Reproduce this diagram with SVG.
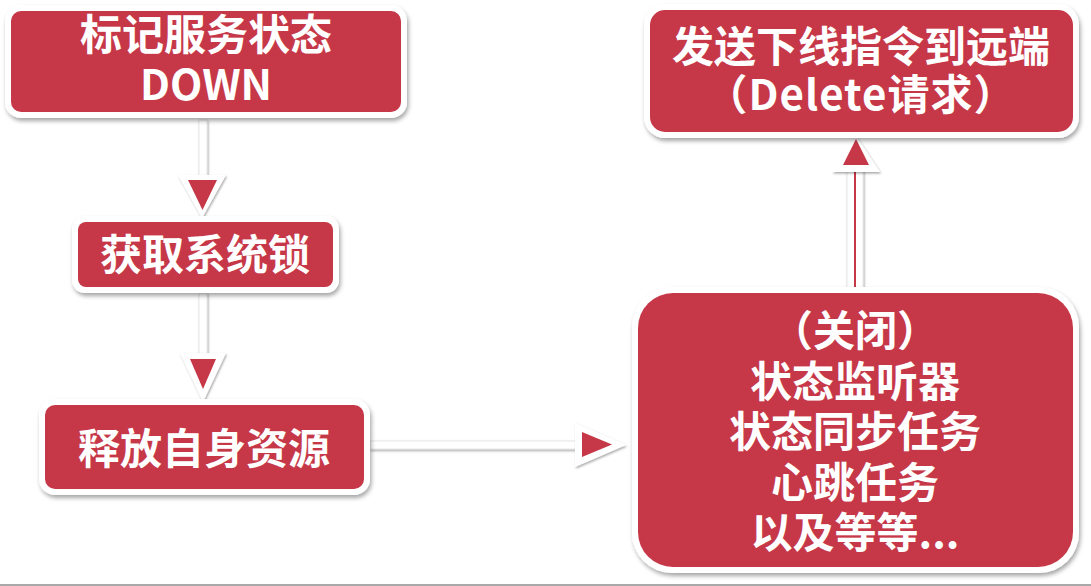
<svg xmlns="http://www.w3.org/2000/svg" width="1091" height="586" viewBox="0 0 1091 586">
  <defs>
    <filter id="shadow" x="-20%" y="-20%" width="140%" height="150%">
      <feDropShadow dx="1.5" dy="3" stdDeviation="2" flood-color="#000" flood-opacity="0.35"/>
    </filter>
    <filter id="lineShadow" filterUnits="userSpaceOnUse" x="0" y="0" width="1091" height="586">
      <feDropShadow dx="1" dy="1.5" stdDeviation="1.3" flood-color="#000" flood-opacity="0.35"/>
    </filter>
    <style>
      .frame { fill: #ffffff; filter: url(#shadow); }
      .box { fill: #C63848; }
      .label { fill: #ffffff; font-family: "Noto Sans CJK SC", "Noto Sans", sans-serif; font-weight: bold; font-size: 42px; text-anchor: middle; }
      .shaft { fill: #ffffff; stroke: #e2e2e2; stroke-width: 0.8; filter: url(#lineShadow); }
      .headOuter { fill: #ffffff; filter: url(#lineShadow); }
      .headInner { fill: #C63848; }
    </style>
  </defs>

  <rect width="1091" height="586" fill="#ffffff"/>

  <!-- connectors: white block arrows with a red core -->
  <g id="connectors">
    <!-- mark DOWN -> acquire lock -->
    <rect class="shaft" x="199" y="120" width="8" height="60"/>
    <polygon class="headOuter" points="178,175 226,175 202,218"/>
    <polygon class="headInner" points="188,180 217,180 202.5,210"/>

    <!-- acquire lock -> release resources -->
    <rect class="shaft" x="199" y="293" width="8" height="63"/>
    <polygon class="headOuter" points="180,353 226,353 203,402"/>
    <polygon class="headInner" points="190,359 216,359 203,389"/>

    <!-- release resources -> close listeners -->
    <rect class="shaft" x="370" y="441" width="210" height="8"/>
    <polygon class="headOuter" points="575,423 575,467 626,445"/>
    <polygon class="headInner" points="582,432 582,457 612,444.5"/>

    <!-- close listeners -> send delete -->
    <rect class="shaft" x="847" y="168" width="16" height="122"/>
    <rect x="854" y="160" width="2" height="130" fill="#C63848"/>
    <polygon class="headOuter" points="832,172 880,172 856,136"/>
    <polygon class="headInner" points="843,165 869,165 856,139"/>
  </g>

  <g id="node-mark-down">
    <rect class="frame" x="5" y="5" width="402" height="113" rx="16"/>
    <rect class="box" x="11" y="11" width="390" height="101" rx="10"/>
    <text class="label" x="206" y="50">标记服务状态</text>
    <text class="label" x="206" y="100">DOWN</text>
  </g>

  <g id="node-acquire-lock">
    <rect class="frame" x="72" y="216" width="267" height="77" rx="13"/>
    <rect class="box" x="78" y="222" width="255" height="65" rx="8"/>
    <text class="label" x="205" y="270">获取系统锁</text>
  </g>

  <g id="node-release">
    <rect class="frame" x="39" y="399" width="331" height="96" rx="16"/>
    <rect class="box" x="45" y="405" width="319" height="84" rx="10"/>
    <text class="label" x="204" y="464">释放自身资源</text>
  </g>

  <g id="node-send-delete">
    <rect class="frame" x="644" y="4" width="435" height="134" rx="21"/>
    <rect class="box" x="650" y="10" width="423" height="122" rx="15"/>
    <text class="label" x="861" y="62">发送下线指令到远端</text>
    <text class="label" x="861" y="110" letter-spacing="1">（Delete请求）</text>
  </g>

  <g id="node-close-tasks">
    <rect class="frame" x="632" y="287" width="447" height="286" rx="40"/>
    <rect class="box" x="638" y="293" width="435" height="274" rx="35"/>
    <text class="label" x="855" y="346">（关闭）</text>
    <text class="label" x="855" y="397">状态监听器</text>
    <text class="label" x="855" y="447">状态同步任务</text>
    <text class="label" x="855" y="498">心跳任务</text>
    <text class="label" x="855" y="548">以及等等...</text>
  </g>

  <rect x="0" y="584" width="1091" height="2" fill="#a9a9a9"/>
</svg>
